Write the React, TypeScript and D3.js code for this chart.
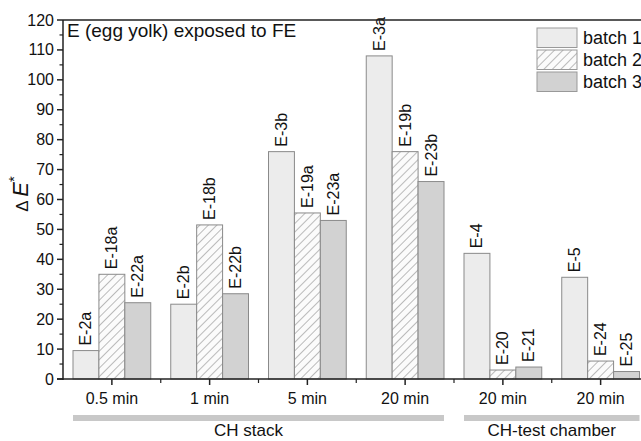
import React from "react";
import { scaleBand, scaleLinear, range } from "d3";

const groups = ["0.5 min", "1 min", "5 min", "20 min", "20 min", "20 min"];
const batches = ["batch 1", "batch 2", "batch 3"];
const batch1 = [9.5, 25, 76, 108, 42, 34];
const batch2 = [35, 51.5, 55.5, 76, 3, 6];
const batch3 = [25.5, 28.5, 53, 66, 4, 2.5];
const labels1 = ["E-2a", "E-2b", "E-3b", "E-3a", "E-4", "E-5"];
const labels2 = ["E-18a", "E-18b", "E-19a", "E-19b", "E-20", "E-24"];
const labels3 = ["E-22a", "E-22b", "E-23a", "E-23b", "E-21", "E-25"];
const yTicks = [0, 10, 20, 30, 40, 50, 60, 70, 80, 90, 100, 110, 120];
const brackets = [
  { name: "CH stack", from: 0, to: 3 },
  { name: "CH-test chamber", from: 4, to: 5 },
];

const W = 641;
const H = 441;
const left = 63;
const top = 20;
const bottom = 379;
const font = "Liberation Sans, Arial, sans-serif";

const fills = ["#ececec", "url(#hatch)", "#d2d2d2"];

export default function App() {
  const keys = groups.map((g, i) => String(i));
  const x = scaleBand().domain(keys).range([left, 649.5]).paddingInner(0);
  const bw = x.bandwidth();
  const xSub = scaleBand().domain(batches).range([10, bw - 10]).padding(0);
  const y = scaleLinear().domain([0, 120]).range([bottom, top]);

  const series = [batch1, batch2, batch3];
  const seriesLabels = [labels1, labels2, labels3];

  return (
    <svg width={W} height={H} style={{ position: "absolute", left: 0, top: 0 }} fontFamily={font}>
      <defs>
        <pattern id="hatch" width="6" height="6" patternUnits="userSpaceOnUse" patternTransform="rotate(45)">
          <rect width="6" height="6" fill="#fbfbfb" />
          <line x1="0" y1="0" x2="0" y2="6" stroke="#6a6a6a" strokeWidth="0.9" />
        </pattern>
      </defs>
      <rect width={W} height={H} fill="#fff" />

      {/* bars */}
      {series.map((vals, si) =>
        vals.map((v, gi) => {
          const bx = x(keys[gi])! + xSub(batches[si])!;
          const by = y(v);
          return (
            <g key={`b${si}-${gi}`}>
              <rect x={bx} y={by} width={xSub.bandwidth()} height={bottom - by}
                fill={fills[si]} stroke="#8a8a8a" strokeWidth={1} />
              <text transform={`translate(${bx + xSub.bandwidth() / 2},${by - 5}) rotate(-90)`}
                fontSize={16} dominantBaseline="central" fill="#111">{seriesLabels[si][gi]}</text>
            </g>
          );
        })
      )}

      {/* frame: left axis, top line, bottom axis */}
      <line x1={left} x2={left} y1={top} y2={bottom + 1} stroke="#222" strokeWidth={1.5} />
      <line x1={left} x2={W} y1={top} y2={top} stroke="#222" strokeWidth={1.5} />
      <line x1={left - 6} x2={W} y1={bottom} y2={bottom} stroke="#222" strokeWidth={1.5} />

      {/* y ticks */}
      {yTicks.map((t) => (
        <g key={`yt${t}`}>
          <line x1={left - 6} x2={left} y1={y(t)} y2={y(t)} stroke="#222" strokeWidth={1.5} />
          <text x={left - 9} y={y(t)} textAnchor="end" dominantBaseline="central" fontSize={16} fill="#111">{t}</text>
        </g>
      ))}
      {yTicks.slice(0, -1).map((t) => (
        <line key={`ym${t}`} x1={left - 3.5} x2={left} y1={y(t + 5)} y2={y(t + 5)} stroke="#222" strokeWidth={1.2} />
      ))}

      {/* x ticks */}
      {keys.map((k, i) => (
        <g key={`xt${k}`}>
          <line x1={x(k)! + bw / 2} x2={x(k)! + bw / 2} y1={bottom} y2={bottom + 6} stroke="#222" strokeWidth={1.5} />
          <text x={x(k)! + bw / 2} y={404} textAnchor="middle" fontSize={16} fill="#111">{groups[i]}</text>
        </g>
      ))}
      {range(1, groups.length).map((i) => (
        <line key={`xm${i}`} x1={x(keys[i])!} x2={x(keys[i])!} y1={bottom} y2={bottom + 4} stroke="#222" strokeWidth={1.2} />
      ))}

      {/* group brackets */}
      {brackets.map((b, i) => {
        const x0 = x(keys[b.from])! + 10;
        const x1 = x(keys[b.to])! + bw - 10;
        const cx = (x(keys[b.from])! + x(keys[b.to])! + bw) / 2 - (i === 0 ? 10 : 0);
        return (
          <g key={b.name}>
            <rect x={x0} y={415} width={x1 - x0} height={6} fill="#c8c8c8" />
            <text x={cx} y={436} textAnchor="middle" fontSize={17} fill="#111">{b.name}</text>
          </g>
        );
      })}

      {/* y label */}
      <text transform="translate(28,194) rotate(-90)" textAnchor="middle" fontSize={22} fill="#111">
        <tspan fontSize={17}>{"Δ "}</tspan>
        <tspan fontStyle="italic">E</tspan>
        <tspan fontSize={15} dy={-9}>*</tspan>
      </text>

      {/* title */}
      <text x={67} y={37} fontSize={19} fill="#111">E (egg yolk) exposed to FE</text>

      {/* legend */}
      {batches.map((b, i) => (
        <g key={b} transform={`translate(537,${28 + i * 22})`}>
          <rect width={40} height={19.5} fill={fills[i]} stroke="#999" strokeWidth={1} />
          <text x={46} y={10} dominantBaseline="central" fontSize={18} fill="#111">{b}</text>
        </g>
      ))}
    </svg>
  );
}
